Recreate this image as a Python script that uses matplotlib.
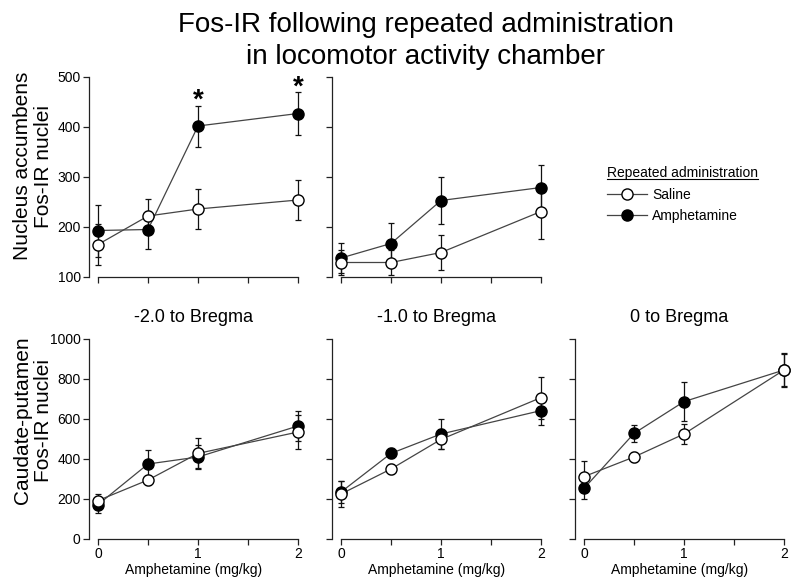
import matplotlib
matplotlib.use('Agg')
import matplotlib.pyplot as plt
from matplotlib.lines import Line2D

plt.rcParams['font.family'] = ['Liberation Sans', 'DejaVu Sans']

dose = [0, 0.5, 1, 2]

# Nucleus accumbens, -2.0 to Bregma
nac_m2_sal = [165, 222, 236, 254]
nac_m2_sal_err = [41, 35, 40, 40]
nac_m2_amph = [193, 195, 402, 427]
nac_m2_amph_err = [52, 38, 41, 43]

# Nucleus accumbens, -1.0 to Bregma
nac_m1_sal = [129, 129, 149, 231]
nac_m1_sal_err = [25, 25, 35, 55]
nac_m1_amph = [138, 167, 253, 279]
nac_m1_amph_err = [30, 41, 47, 45]

# Caudate-putamen, -2.0 / -1.0 / 0 to Bregma
cpu_m2_sal = [192, 295, 428, 535]
cpu_m2_sal_err = [35, 25, 75, 85]
cpu_m2_amph = [172, 375, 410, 565]
cpu_m2_amph_err = [40, 70, 62, 75]

cpu_m1_sal = [225, 350, 498, 707]
cpu_m1_sal_err = [65, 25, 50, 105]
cpu_m1_amph = [235, 428, 525, 642]
cpu_m1_amph_err = [55, 25, 73, 74]

cpu_0_sal = [312, 410, 525, 845]
cpu_0_sal_err = [78, 25, 50, 85]
cpu_0_amph = [253, 528, 687, 845]
cpu_0_amph_err = [53, 42, 96, 80]

panel_titles = ['-2.0 to Bregma', '-1.0 to Bregma', '0 to Bregma']
title = 'Fos-IR following repeated administration\nin locomotor activity chamber'
nac_label = 'Nucleus accumbens\nFos-IR nuclei'
cpu_label = 'Caudate-putamen\nFos-IR nuclei'
xlabel = 'Amphetamine (mg/kg)'
legend_title = 'Repeated administration'
series_names = ['Saline', 'Amphetamine']
sig_points = [2, 3]  # indices in dose for asterisks (top-left panel)

W, H = 800, 583
fig = plt.figure(figsize=(W / 100, H / 100), dpi=100)

AXC = '#222222'


def make_ax(left_px, bottom_px, ylim, yticks, show_ylabels, show_xlabels):
    ax = fig.add_axes([left_px / W, (H - bottom_px) / H, 209 / W, 200 / H])
    ax.set_xlim(-0.09, 2.0)
    ax.set_ylim(*ylim)
    for s in ['top', 'right']:
        ax.spines[s].set_visible(False)
    ax.spines['left'].set_bounds(ylim[0], ylim[1])
    ax.spines['bottom'].set_bounds(0, 2)
    for s in ['left', 'bottom']:
        ax.spines[s].set_linewidth(0.9)
        ax.spines[s].set_color(AXC)
    ax.set_yticks(yticks)
    ax.set_xticks([0, 1, 2])
    ax.set_xticks([0.5, 1.5], minor=True)
    ax.tick_params(which='both', direction='out', length=4, width=0.9,
                   color=AXC, labelsize=10, pad=2)
    if not show_ylabels:
        ax.set_yticklabels([])
    if show_xlabels:
        ax.set_xticklabels(['0', '1', '2'])
        ax.set_xlabel(xlabel, fontsize=10, labelpad=1)
    else:
        ax.set_xticklabels([])
    return ax


def draw_series(ax, sal, sal_err, amph, amph_err):
    for y, e in [(amph, amph_err), (sal, sal_err)]:
        ax.errorbar(dose, y, yerr=e, fmt='none', ecolor='#111111',
                    elinewidth=0.9, capsize=2.5, capthick=0.9, clip_on=False, zorder=2)
    ax.plot(dose, amph, '-', color='#444444', lw=0.9, zorder=3, clip_on=False)
    ax.plot(dose, sal, '-', color='#444444', lw=0.9, zorder=3, clip_on=False)
    h_a, = ax.plot(dose, amph, 'o', ms=8, mfc='black', mec='black', mew=1,
                   zorder=4, clip_on=False)
    h_s, = ax.plot(dose, sal, 'o', ms=8, mfc='white', mec='black', mew=1,
                   zorder=5, clip_on=False)
    return h_s, h_a


# top row
ax1 = make_ax(89, 277, (100, 500), [100, 200, 300, 400, 500], True, False)
h_s, h_a = draw_series(ax1, nac_m2_sal, nac_m2_sal_err, nac_m2_amph, nac_m2_amph_err)
for i in sig_points:
    ax1.annotate('*', xy=(dose[i], nac_m2_amph[i] + nac_m2_amph_err[i]),
                 xytext=(0, -6), textcoords='offset points', ha='center',
                 va='bottom', fontsize=20, fontweight='bold')

ax2 = make_ax(332, 277, (100, 500), [100, 200, 300, 400, 500], False, False)
draw_series(ax2, nac_m1_sal, nac_m1_sal_err, nac_m1_amph, nac_m1_amph_err)

# bottom row
yt = [0, 200, 400, 600, 800, 1000]
ax3 = make_ax(89, 539, (0, 1000), yt, True, True)
draw_series(ax3, cpu_m2_sal, cpu_m2_sal_err, cpu_m2_amph, cpu_m2_amph_err)
ax4 = make_ax(332, 539, (0, 1000), yt, False, True)
draw_series(ax4, cpu_m1_sal, cpu_m1_sal_err, cpu_m1_amph, cpu_m1_amph_err)
ax5 = make_ax(575, 539, (0, 1000), yt, False, True)
draw_series(ax5, cpu_0_sal, cpu_0_sal_err, cpu_0_amph, cpu_0_amph_err)

for ax, t in zip([ax3, ax4, ax5], panel_titles):
    ax.set_title(t, fontsize=13, pad=12)

fig.text(426 / W, 1 - 12 / H, title, ha='center', va='top', fontsize=20,
         linespacing=1.3)
fig.text(33 / W, 1 - 166 / H, nac_label, ha='center', va='center',
         rotation=90, fontsize=15, linespacing=1.1)
fig.text(33 / W, 1 - 420 / H, cpu_label, ha='center', va='center',
         rotation=90, fontsize=15, linespacing=1.1)

proxy_s = Line2D([], [], color='#444444', lw=0.9, marker='o', ms=8,
                 mfc='white', mec='black', mew=1)
proxy_a = Line2D([], [], color='#444444', lw=0.9, marker='o', ms=8,
                 mfc='black', mec='black', mew=1)
leg = fig.legend([proxy_s, proxy_a], series_names, title=legend_title,
                 loc='upper left', bbox_to_anchor=(600 / W, 1 - 159 / H),
                 frameon=False, fontsize=10, title_fontsize=10,
                 handlelength=2.9, handletextpad=0.35, labelspacing=0.55,
                 borderpad=0.0, alignment='left')

fig.canvas.draw()
bb = leg.get_title().get_window_extent()
inv = fig.transFigure.inverted()
(x0, y0), (x1, y1) = inv.transform([(bb.x0, bb.y0 + 1), (bb.x1, bb.y0 + 1)])
fig.add_artist(Line2D([x0, x1], [y0, y1], transform=fig.transFigure,
                      color='black', lw=0.8))

fig.savefig('out.png', dpi=100)
